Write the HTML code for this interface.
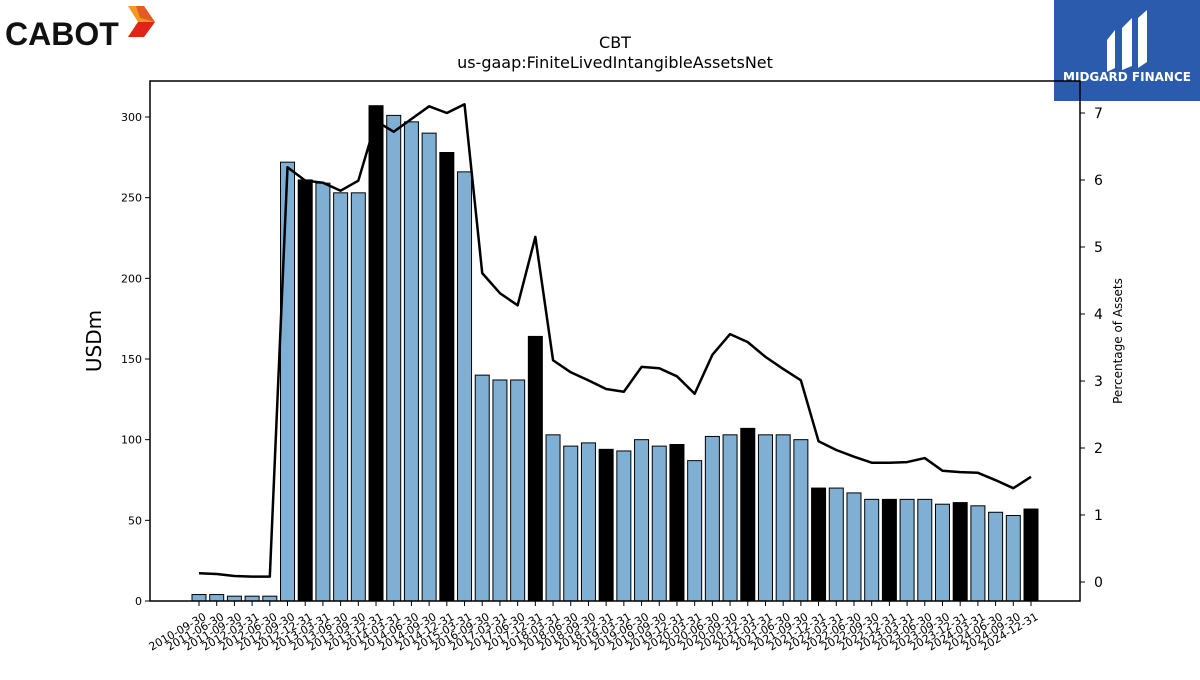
<!DOCTYPE html>
<html><head><meta charset="utf-8"><style>
body{margin:0;background:#fff;width:1200px;height:675px;overflow:hidden;font-family:"Liberation Sans","DejaVu Sans",sans-serif}
</style></head><body>
<svg id="chart" width="1200" height="675" xmlns="http://www.w3.org/2000/svg" font-family="DejaVu Sans, Liberation Sans, sans-serif">
<g>
<text x="5" y="45" font-size="32" font-weight="bold" font-family="Liberation Sans, sans-serif" fill="#111">CABOT</text>
<polygon points="128,6 144,6 155,22 144,37 128,37 138,22" fill="#f39a1e"/>
<polygon points="138,22 155,22 144,37 128,37" fill="#e2231a"/>
<polygon points="136,6 144,6 155,22 140,18" fill="#e85a25"/>
</g>
<g>
<rect x="1054" y="0" width="146" height="101" fill="#2b5bad"/>
<path d="M1107,40 L1115,30 L1115,68 L1107,72 Z" fill="#fff"/>
<path d="M1122,28 L1132,18 L1132,66 L1122,70 Z" fill="#fff"/>
<path d="M1138,18 L1147,10 L1147,62 L1138,68 Z" fill="#fff"/>
<text x="1127" y="81" text-anchor="middle" font-size="12" font-weight="bold" fill="#fff">MIDGARD FINANCE</text>
</g>
<text x="615" y="48" text-anchor="middle" font-size="16">CBT</text>
<text x="615" y="68" text-anchor="middle" font-size="16">us-gaap:FiniteLivedIntangibleAssetsNet</text>
<g id="plot"></g>
<rect x="150" y="81" width="930" height="520" fill="none" stroke="#000" stroke-width="1.5"/>
<text transform="translate(101,341) rotate(-90)" text-anchor="middle" font-size="20">USDm</text>
<text transform="translate(1122,341) rotate(-90)" text-anchor="middle" font-size="12">Percentage of Assets</text>
</svg>
<script>
const categories=["2010-09-30","2011-06-30","2011-09-30","2012-03-31","2012-06-30","2012-09-30","2012-12-31","2013-03-31","2013-06-30","2013-09-30","2013-12-31","2014-03-31","2014-06-30","2014-09-30","2014-12-31","2015-03-31","2016-09-30","2017-03-31","2017-06-30","2017-12-31","2018-03-31","2018-06-30","2018-09-30","2018-12-31","2019-03-31","2019-06-30","2019-09-30","2019-12-31","2020-03-31","2020-06-30","2020-09-30","2020-12-31","2021-03-31","2021-06-30","2021-09-30","2021-12-31","2022-03-31","2022-06-30","2022-09-30","2022-12-31","2023-03-31","2023-06-30","2023-09-30","2023-12-31","2024-03-31","2024-06-30","2024-09-30","2024-12-31"];
const values=[4,4,3,3,3,272,261,259,253,253,307,301,297,290,278,266,140,137,137,164,103,96,98,94,93,100,96,97,87,102,103,107,103,103,100,70,70,67,63,63,63,63,60,61,59,55,53,57];
const pctAssets=[0.13,0.12,0.09,0.08,0.08,6.19,5.99,5.96,5.84,5.99,6.88,6.72,6.91,7.1,7.0,7.13,4.61,4.31,4.13,5.15,3.31,3.13,3.01,2.88,2.84,3.21,3.19,3.07,2.81,3.39,3.70,3.58,3.36,3.18,3.01,2.10,1.97,1.87,1.78,1.78,1.79,1.85,1.66,1.64,1.63,1.52,1.40,1.57];
const highlight=[6,10,14,19,23,27,31,35,39,43,47];
const leftTicks=[0,50,100,150,200,250,300];
const rightTicks=[0,1,2,3,4,5,6,7];
const NS="http://www.w3.org/2000/svg";
const g=document.getElementById('plot');
const x0=199,x1=1031;
const step=(x1-x0)/(categories.length-1);
const xs=i=>x0+i*step;
const yL=v=>601-v*(484/300);
const yR=v=>582-v*67;
function mk(t,a){const e=document.createElementNS(NS,t);for(const k in a)e.setAttribute(k,a[k]);g.appendChild(e);return e;}
values.forEach((v,i)=>{
 const hl=highlight.includes(i);
 const r=mk('rect',{x:xs(i)-7,y:yL(v),width:14,height:601-yL(v),fill:hl?'#000':'#7fb0d4',stroke:'#000','stroke-width':1});
 
 
});
const pts=pctAssets.map((v,i)=>xs(i)+','+yR(v)).join(' ');
const pl=mk('polyline',{points:pts,fill:'none',stroke:'#000','stroke-width':2.5,'stroke-linejoin':'round'});


leftTicks.forEach(v=>{
 mk('line',{x1:145,x2:150,y1:yL(v),y2:yL(v),stroke:'#000'});
 const t=mk('text',{x:142,y:yL(v)+4,'text-anchor':'end','font-size':11});t.textContent=v;
 
 
});
rightTicks.forEach(v=>{
 mk('line',{x1:1080,x2:1085,y1:yR(v),y2:yR(v),stroke:'#000'});
 const t=mk('text',{x:1094,y:yR(v)+5,'font-size':14});t.textContent=v;
 
 
});
categories.forEach((c,i)=>{
 mk('line',{x1:xs(i),x2:xs(i),y1:601,y2:606,stroke:'#000'});
 const t=mk('text',{transform:`translate(${xs(i)+4},612) rotate(-30)`,'text-anchor':'end','font-size':11,'dominant-baseline':'hanging'});t.textContent=c;
 
 
});
</script>
</body></html>
